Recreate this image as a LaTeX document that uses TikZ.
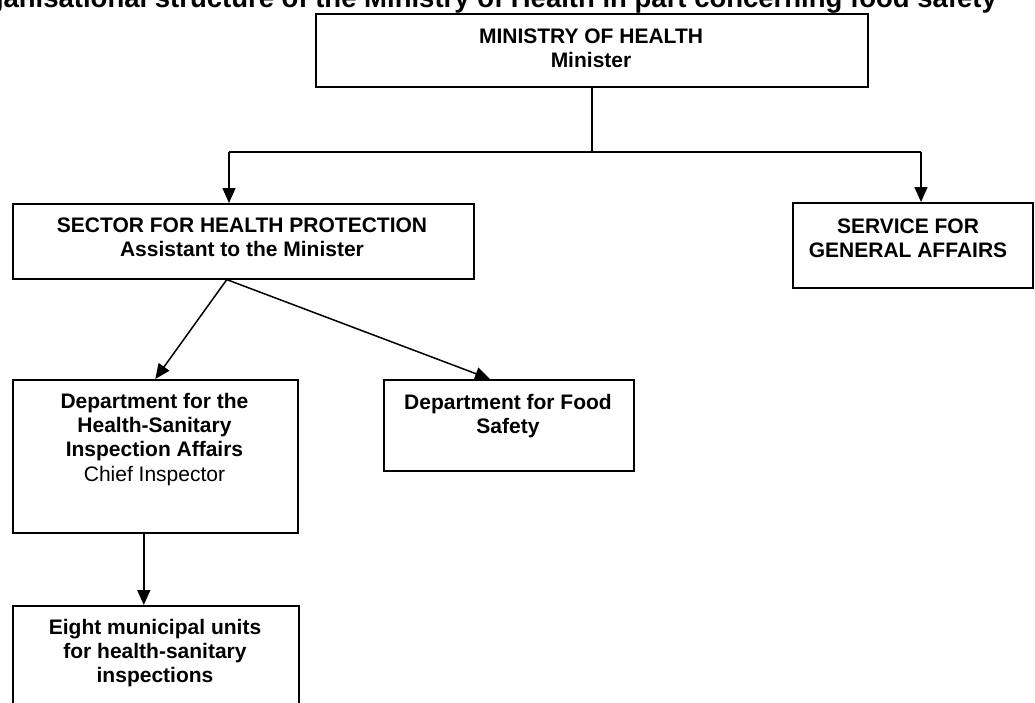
\documentclass[tikz,border=0pt]{standalone}
\usepackage{fontspec}
\setmainfont{Liberation Sans}
\usetikzlibrary{arrows.meta}

\tikzset{
  orgbox/.style={draw, line width=1.6pt, rectangle, inner sep=0pt, anchor=north west},
  boxtext/.style={anchor=north, inner sep=0pt, align=center,
    font=\fontsize{21}{24}\selectfont\bfseries},
  link/.style={line width=1.5pt},
  linkarrow/.style={line width=1.5pt, -{Triangle[length=15pt,width=13pt]}},
}

\begin{document}
\begin{tikzpicture}[x=1pt, y=-1pt]
  \useasboundingbox (0,0) rectangle (1035,702);
  \clip (0,0) rectangle (1035,702);

  % caption line, running past the top edge
  \node[anchor=base east, inner sep=0pt, font=\fontsize{27.5}{30}\selectfont\bfseries]
    (caption) at (997,7.5) {Organisational structure of the Ministry of Health in part concerning food safety};

  % boxes
  \node[orgbox, minimum width=552pt, minimum height=73pt] (moh) at (315,13) {};
  \node[orgbox, minimum width=461pt, minimum height=75pt] (sector) at (12,203) {};
  \node[orgbox, minimum width=240pt, minimum height=85pt] (service) at (792,202) {};
  \node[orgbox, minimum width=285pt, minimum height=153pt] (dept) at (12,379) {};
  \node[orgbox, minimum width=250pt, minimum height=91pt] (food) at (383,379) {};
  \node[orgbox, minimum width=286pt, minimum height=130pt] (eight) at (12,605) {};

  % box texts
  \node[boxtext] (moh-t) at (591,28.5) {MINISTRY OF HEALTH\\Minister};
  \node[boxtext] (sector-t) at (242,217.5) {SECTOR FOR HEALTH PROTECTION\\Assistant to the Minister};
  \node[boxtext] (service-t) at (908,218.5) {SERVICE FOR\\GENERAL AFFAIRS};
  \node[boxtext] (dept-t) at (154.5,393.5) {Department for the\\Health-Sanitary\\Inspection Affairs\\[1pt]\mdseries Chief Inspector};
  \node[boxtext] (food-t) at (508,394.5) {Department for Food\\Safety};
  \node[boxtext] (eight-t) at (155,619.5) {Eight municipal units\\for health-sanitary\\inspections};

  % connectors
  \coordinate (jl) at (229,152);
  \coordinate (jr) at (921,152);
  \draw[link] (moh.south) -- (moh.south |- jl);
  \draw[link] (jl) -- (jr);
  \draw[linkarrow] (jl) -- (jl |- sector.north);
  \draw[linkarrow] (jr) -- (jr |- service.north);

  \coordinate (sp) at ([xshift=-16.5pt]sector.south);
  \draw[linkarrow] (sp) -- (dept.north);
  \draw[linkarrow] (sp) -- ([xshift=107pt]food.north west);

  \coordinate (dd) at ([xshift=-11.5pt]dept.south);
  \draw[linkarrow] (dd) -- (dd |- eight.north);
\end{tikzpicture}
\end{document}
